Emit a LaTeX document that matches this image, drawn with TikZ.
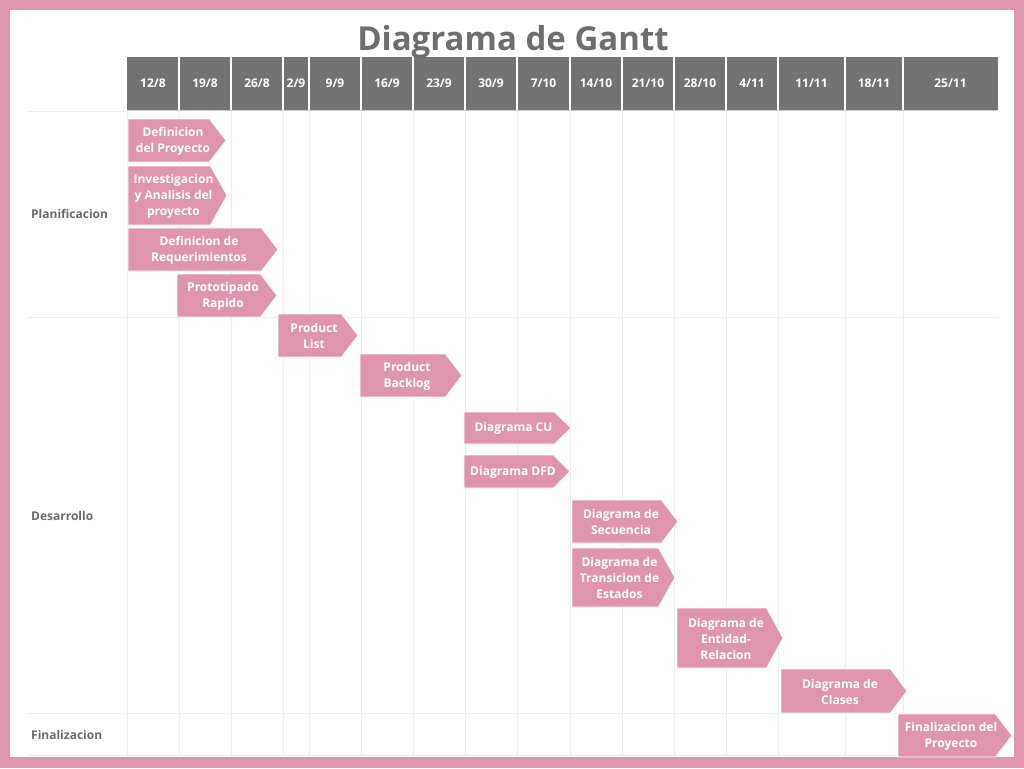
\documentclass[tikz,border=0pt]{standalone}
\usepackage{fontspec}
\setmainfont{Open Sans}
\definecolor{ganttpink}{HTML}{E095AF}
\definecolor{headgray}{HTML}{737373}
\definecolor{gridgray}{HTML}{EEEEEE}
\definecolor{titlegray}{HTML}{6E6E6E}
\definecolor{labelgray}{HTML}{6B6B6B}
\tikzset{
  bartext/.style={text=white, font=\bfseries\fontsize{12}{16}\selectfont, align=center, inner sep=0pt},
  headtext/.style={text=white, font=\bfseries\fontsize{12}{14}\selectfont, inner sep=0pt},
  rowtext/.style={text=labelgray, font=\bfseries\fontsize{12}{14}\selectfont, anchor=west, inner sep=0pt},
  gridline/.style={draw=gridgray, line width=0.9pt}
}
%% bar: name, left, tip, top, bottom, text
\newcommand{\ganttbar}[6]{%
  \filldraw[fill=ganttpink, draw=white, line width=0.8pt] (#2,#4) -- (#3-16.5,#4) -- (#3,{(#4+#5)/2}) -- (#3-16.5,#5) -- (#2,#5) -- cycle;
  \node[bartext] (#1) at ({(#2+#3)/2-4},{(#4+#5)/2+0.5}) {#6};
}
\begin{document}
\begin{tikzpicture}[x=1pt,y=-1pt]
        \useasboundingbox (0,0) rectangle (1024,768);
        %% frame
        \fill[ganttpink] (0,0) rectangle (1024,768);
        \fill[white] (10,10) rectangle (1014,757);
        %% title
        \node[text=titlegray, font=\bfseries\fontsize{33}{38}\selectfont, anchor=base] (title) at (513,50) {Diagrama de Gantt};
        %% header
        \fill[headgray] (127,57) rectangle (998,110);
        \draw[gray!40, line width=1.5pt] (127,110.5) -- (998,110.5);
        \foreach \a/\b/\d/\m [count=\i] in {127/179/12/8, 179/231/19/8, 231/283/26/8, 283/309/2/9,
            309/361/9/9, 361/413/16/9, 413/465/23/9, 465/517/30/9, 517/570/7/10, 570/622/14/10,
            622/674/21/10, 674/726/28/10, 726/778/4/11, 778/845/11/11, 845/903/18/11, 903/998/25/11}
          \node[headtext] (h\i) at ({(\a+\b)/2},83.5) {\d/\m};
        \foreach \x in {179,231,283,309,361,413,465,517,570,622,674,726,778,845,903}
          \draw[white, line width=1.2pt] (\x,57) -- (\x,110);
        %% grid
        \foreach \x in {127,179,231,283,309,361,413,465,517,570,622,674,726,778,845,903}
          \draw[gridline] (\x,111) -- (\x,755);
        \foreach \y in {317,713,755}
          \draw[gridline] (28,\y) -- (998,\y);
        \draw[gridline] (28,111) -- (127,111);
        %% rows
        \node[rowtext] (plan) at (31,214) {Planificacion};
        \node[rowtext] (desa) at (31,516) {Desarrollo};
        \node[rowtext] (fina) at (31,735) {Finalizacion};
        %% tasks
        \ganttbar{defproy}{128}{226}{119}{162}{Definicion\\del Proyecto}
        \ganttbar{invest}{128}{227}{166}{225}{Investigacion\\y Analisis del\\proyecto}
        \ganttbar{requer}{128}{278}{228}{271}{Definicion de\\Requerimientos}
        \ganttbar{proto}{177}{277}{274}{317}{Prototipado\\Rapido}
        \ganttbar{plist}{278}{358}{314}{357}{Product\\List}
        \ganttbar{pback}{360}{462}{354}{397}{Product\\Backlog}
        \ganttbar{dcu}{464}{571}{412}{444}{Diagrama CU}
        \ganttbar{ddfd}{464}{570}{455}{488}{Diagrama DFD}
        \ganttbar{dsec}{572}{678}{500}{543}{Diagrama de\\Secuencia}
        \ganttbar{dtrans}{572}{675}{548}{607}{Diagrama de\\Transicion de\\Estados}
        \ganttbar{dent}{677}{783}{608}{668}{Diagrama de\\Entidad-\\Relacion}
        \ganttbar{dclas}{781}{907}{669}{713}{Diagrama de\\Clases}
        \ganttbar{finproy}{898}{1012}{714}{757}{Finalizacion del\\Proyecto}
    \end{tikzpicture}
\end{document}
